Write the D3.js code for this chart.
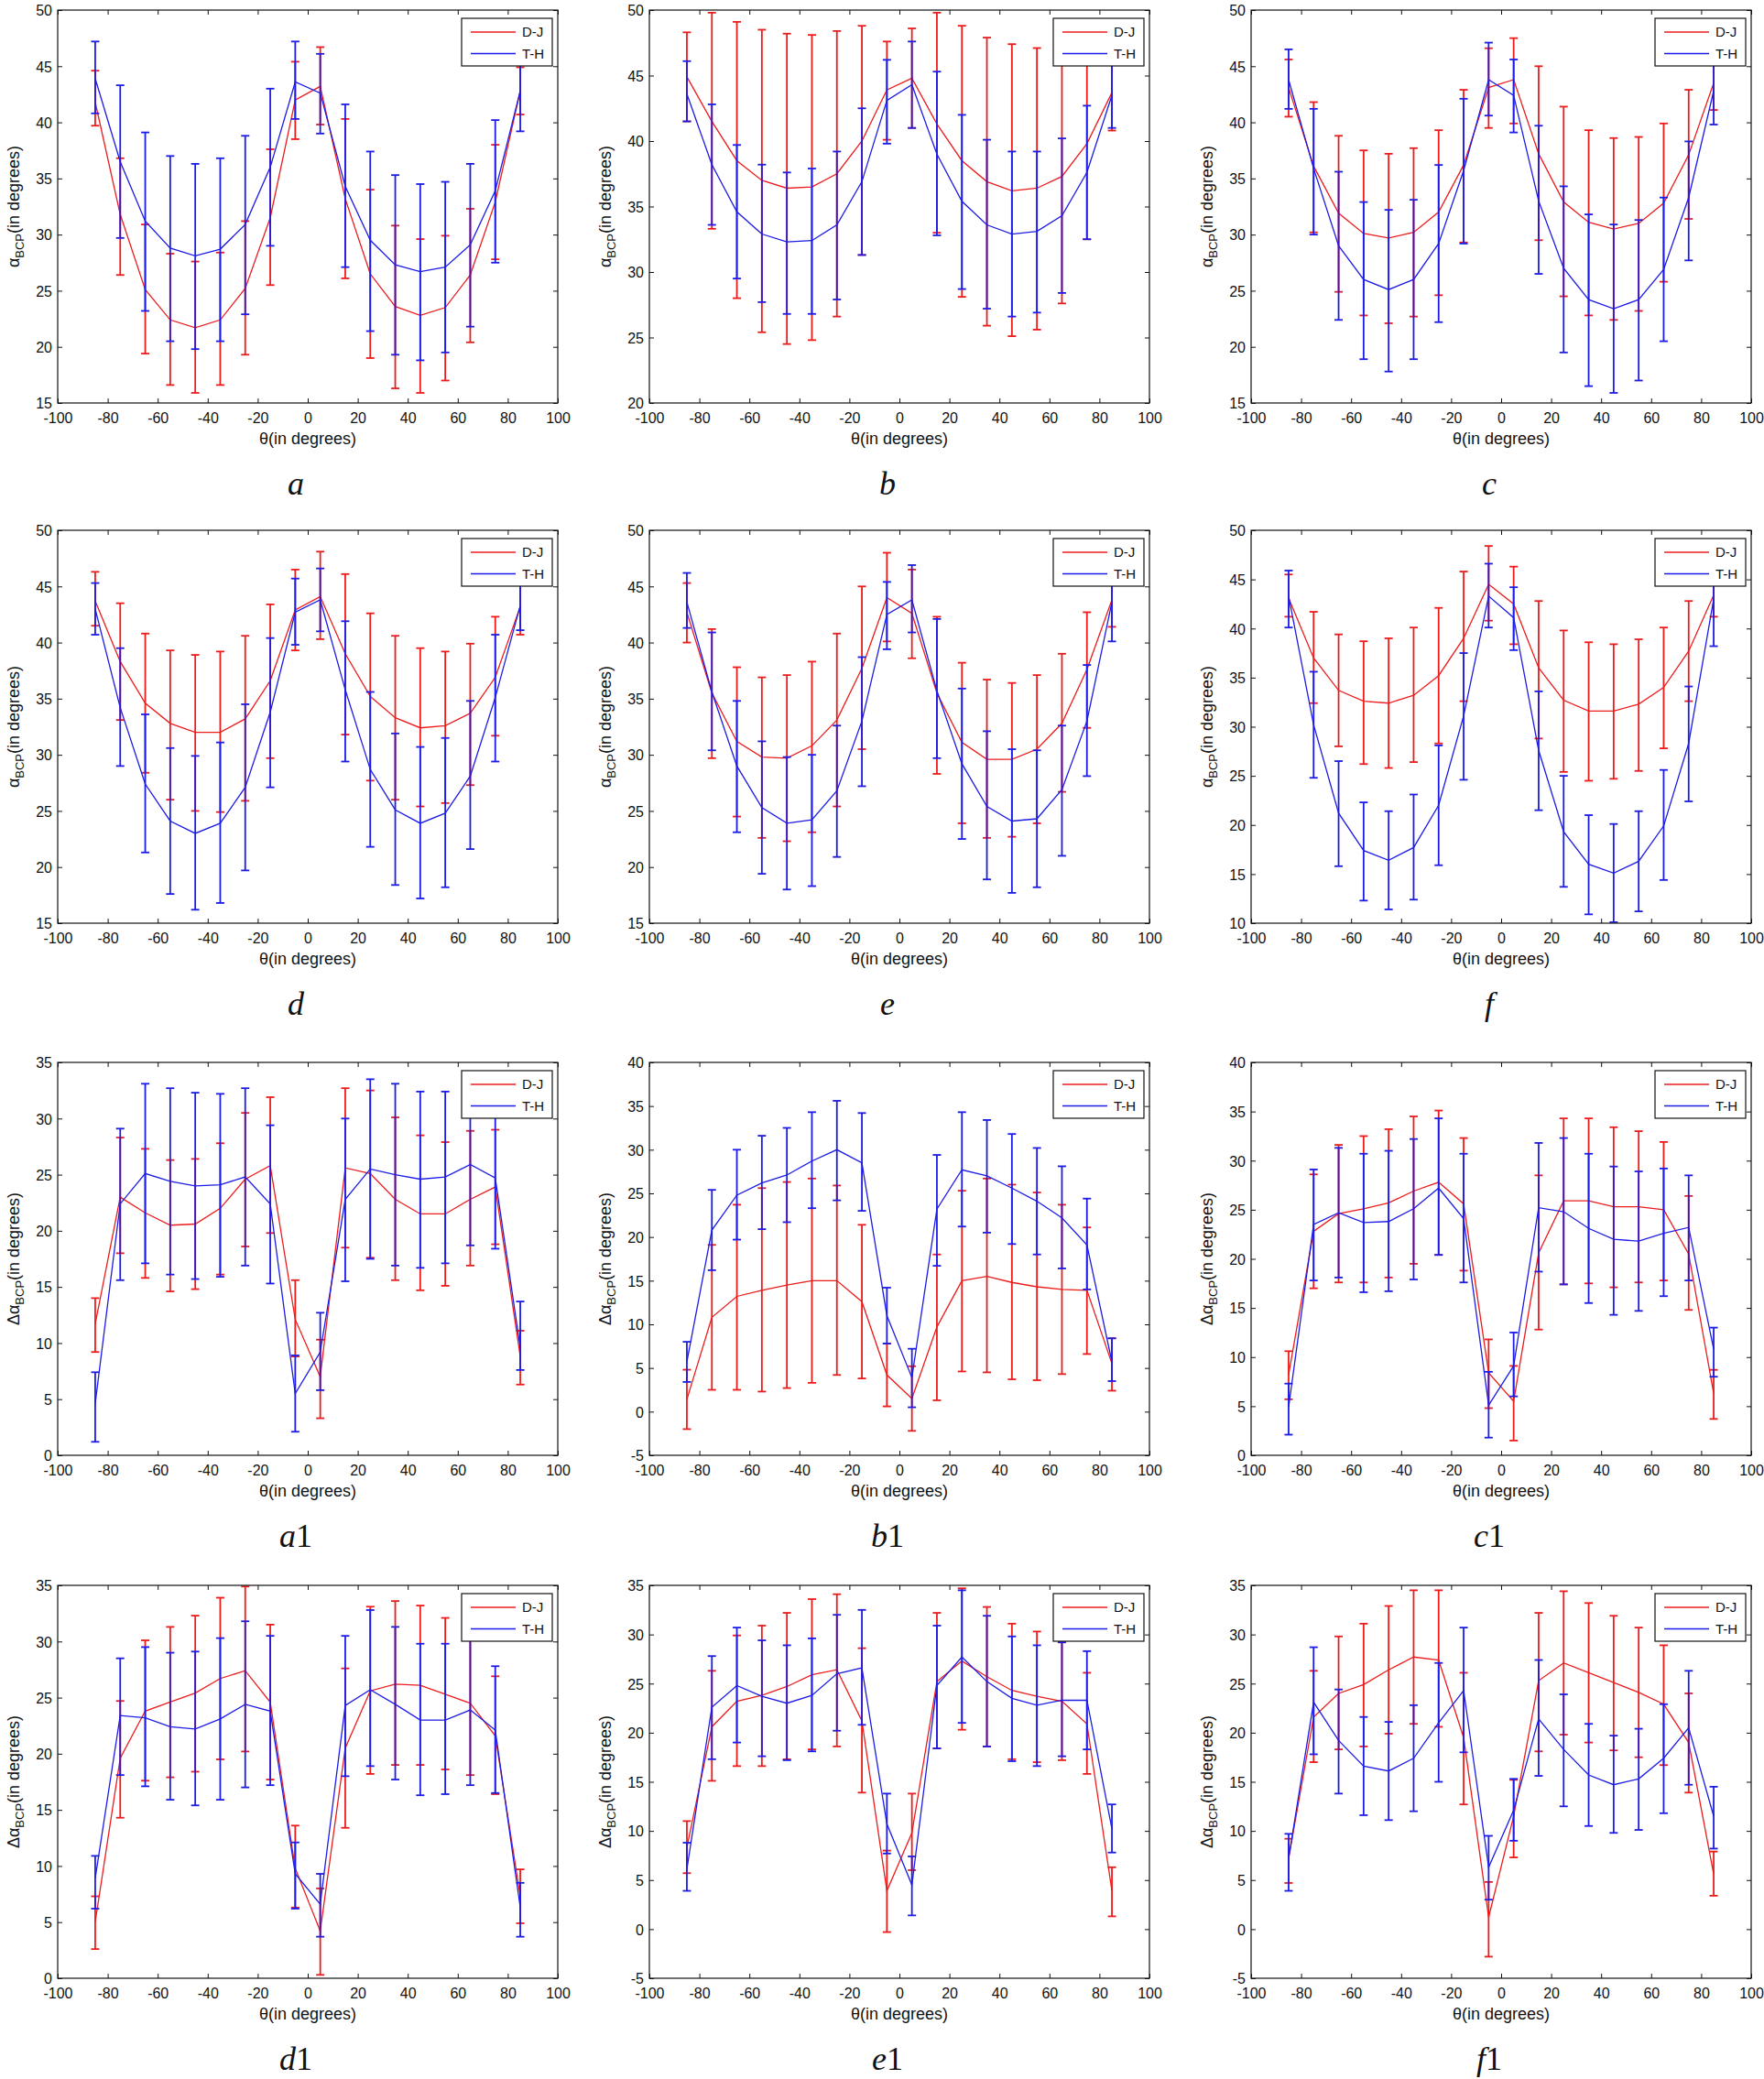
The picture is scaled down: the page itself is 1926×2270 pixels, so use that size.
<!DOCTYPE html>
<html>
<head>
<meta charset="utf-8">
<script src="https://cdn.jsdelivr.net/npm/d3@7"></script>
<style>
  body { margin: 0; background: #fff; }
  svg { display: block; }
  text { font-family: "Liberation Sans", Arial, sans-serif; fill: #111; }
</style>
</head>
<body>
<svg id="fig" width="1926" height="2270"></svg>
<script>
// angles where both estimators were evaluated
var theta = [-85, -75, -65, -55, -45, -35, -25, -15, -5, 5, 15, 25, 35, 45, 55, 65, 75, 85];
var xTicks = [-100, -80, -60, -40, -20, 0, 20, 40, 60, 80, 100];

var yTicks15 = [15, 20, 25, 30, 35, 40, 45, 50];
var yTicks20 = [20, 25, 30, 35, 40, 45, 50];
var yTicks10 = [10, 15, 20, 25, 30, 35, 40, 45, 50];
var yTicks0_35 = [0, 5, 10, 15, 20, 25, 30, 35];
var yTicks0_40 = [0, 5, 10, 15, 20, 25, 30, 35, 40];
var yTicksM5_40 = [-5, 0, 5, 10, 15, 20, 25, 30, 35, 40];
var yTicksM5_35 = [-5, 0, 5, 10, 15, 20, 25, 30, 35];

// panel a
var a_dj    = [41.8, 31.8, 25.1, 22.4, 21.7, 22.4, 25.2, 31.5, 42.0, 43.2, 33.2, 26.5, 23.6, 22.8, 23.5, 26.4, 32.9, 42.8];
var a_dj_up = [44.6, 36.8, 30.9, 28.3, 27.6, 28.4, 31.2, 37.6, 45.4, 46.7, 40.3, 34.0, 30.8, 29.6, 29.9, 32.3, 38.0, 44.9];
var a_dj_lo = [39.7, 26.4, 19.4, 16.6, 15.9, 16.6, 19.3, 25.5, 38.5, 39.8, 26.1, 19.0, 16.3, 15.9, 17.0, 20.4, 27.8, 40.7];
var a_th    = [43.9, 36.5, 31.2, 28.8, 28.1, 28.7, 30.9, 36.0, 43.6, 42.6, 34.3, 29.5, 27.3, 26.7, 27.1, 29.1, 33.9, 42.8];
var a_th_up = [47.2, 43.3, 39.1, 37.0, 36.3, 36.8, 38.8, 43.0, 47.2, 46.1, 41.6, 37.4, 35.3, 34.5, 34.7, 36.3, 40.2, 46.5];
var a_th_lo = [40.8, 29.7, 23.2, 20.5, 19.8, 20.5, 22.9, 29.0, 40.3, 39.0, 27.1, 21.4, 19.3, 18.8, 19.5, 21.8, 27.5, 39.2];

// panel b
var b_dj    = [44.9, 41.5, 38.5, 37.0, 36.4, 36.5, 37.5, 40.0, 43.9, 44.8, 41.3, 38.5, 36.9, 36.2, 36.4, 37.3, 39.8, 43.7];
var b_dj_up = [48.3, 49.8, 49.1, 48.5, 48.2, 48.1, 48.4, 48.8, 47.6, 48.6, 49.8, 48.8, 47.9, 47.4, 47.1, 46.9, 47.0, 46.6];
var b_dj_lo = [41.5, 33.3, 28.0, 25.4, 24.5, 24.8, 26.6, 31.3, 40.1, 41.0, 33.0, 28.1, 25.9, 25.1, 25.6, 27.6, 32.5, 40.8];
var b_th    = [43.6, 38.2, 34.6, 32.9, 32.3, 32.4, 33.6, 36.9, 43.1, 44.3, 39.0, 35.4, 33.6, 32.9, 33.1, 34.3, 37.6, 43.5];
var b_th_up = [46.1, 42.8, 39.7, 38.2, 37.6, 37.9, 39.2, 42.5, 46.2, 47.6, 45.3, 42.0, 40.1, 39.2, 39.2, 40.2, 42.7, 46.0];
var b_th_lo = [41.5, 33.6, 29.5, 27.7, 26.8, 26.8, 27.9, 31.3, 39.8, 41.0, 32.8, 28.7, 27.2, 26.6, 26.9, 28.4, 32.5, 41.0];

// panel c
var c_dj    = [43.1, 36.1, 31.9, 30.1, 29.7, 30.2, 32.0, 36.2, 43.1, 43.8, 37.2, 32.9, 31.1, 30.5, 31.0, 32.8, 37.1, 43.5];
var c_dj_up = [45.6, 41.8, 38.8, 37.5, 37.2, 37.7, 39.3, 42.9, 46.6, 47.5, 45.0, 41.4, 39.3, 38.6, 38.7, 39.9, 42.9, 45.9];
var c_dj_lo = [40.5, 30.2, 24.9, 22.8, 22.1, 22.7, 24.6, 29.3, 39.5, 39.9, 29.5, 24.5, 22.8, 22.4, 23.2, 25.8, 31.4, 41.1];
var c_th    = [43.8, 35.9, 29.0, 26.0, 25.1, 26.0, 29.2, 35.7, 43.8, 42.4, 33.0, 27.0, 24.2, 23.4, 24.2, 26.9, 33.3, 42.8];
var c_th_up = [46.5, 41.2, 35.6, 32.9, 32.2, 33.1, 36.2, 42.1, 47.1, 45.6, 39.7, 34.3, 31.8, 30.9, 31.3, 33.3, 38.3, 46.3];
var c_th_lo = [41.2, 30.0, 22.4, 18.9, 17.8, 18.9, 22.2, 29.2, 40.6, 39.1, 26.5, 19.5, 16.5, 15.9, 17.0, 20.5, 27.7, 39.8];

// panel d
var d_dj    = [43.7, 38.3, 34.6, 32.8, 32.0, 32.0, 33.2, 36.6, 42.9, 44.1, 39.0, 35.2, 33.3, 32.4, 32.6, 33.7, 36.9, 43.2];
var d_dj_up = [46.3, 43.5, 40.8, 39.3, 38.9, 39.2, 40.6, 43.4, 46.5, 48.1, 46.1, 42.6, 40.6, 39.5, 39.2, 39.9, 42.3, 45.3];
var d_dj_lo = [41.5, 33.1, 28.4, 26.0, 25.0, 24.9, 25.9, 29.7, 39.3, 40.3, 31.8, 27.7, 26.0, 25.4, 25.7, 27.3, 31.7, 40.7];
var d_th    = [43.0, 34.2, 27.4, 24.1, 23.0, 23.9, 27.1, 33.8, 42.7, 43.8, 35.8, 28.7, 25.1, 23.9, 24.8, 28.1, 35.1, 43.3];
var d_th_up = [45.3, 39.5, 33.6, 30.6, 29.9, 31.1, 34.5, 40.4, 45.7, 46.6, 41.9, 35.6, 31.9, 30.7, 31.5, 34.8, 40.7, 45.6];
var d_th_lo = [40.7, 29.0, 21.3, 17.6, 16.2, 16.8, 19.7, 27.1, 39.8, 41.0, 29.4, 21.8, 18.4, 17.2, 18.2, 21.6, 29.4, 41.1];

// panel e
var e_dj    = [42.7, 35.5, 31.2, 29.8, 29.7, 30.8, 33.1, 37.7, 44.0, 42.6, 35.5, 31.1, 29.6, 29.6, 30.5, 32.8, 37.6, 43.8];
var e_dj_up = [45.3, 41.2, 37.8, 36.9, 37.1, 38.3, 40.8, 45.0, 48.0, 46.5, 42.3, 38.2, 36.7, 36.4, 37.1, 39.0, 42.7, 46.2];
var e_dj_lo = [40.0, 29.7, 24.5, 22.6, 22.3, 23.1, 25.4, 30.5, 40.1, 38.6, 28.3, 23.9, 22.6, 22.7, 23.9, 26.7, 32.4, 41.4];
var e_th    = [43.6, 35.6, 29.0, 25.3, 23.9, 24.2, 26.8, 33.0, 42.5, 43.8, 35.7, 29.2, 25.4, 24.1, 24.3, 26.9, 33.0, 43.6];
var e_th_up = [46.2, 40.9, 34.8, 31.2, 29.8, 30.0, 32.6, 38.7, 45.4, 46.9, 42.1, 35.9, 32.1, 30.5, 30.4, 32.6, 38.0, 46.4];
var e_th_lo = [41.3, 30.4, 23.1, 19.4, 18.0, 18.3, 20.9, 27.2, 39.4, 40.9, 29.7, 22.5, 18.9, 17.7, 18.2, 21.0, 28.1, 40.1];

// panel f
var f_dj    = [43.1, 37.0, 33.7, 32.6, 32.4, 33.2, 35.2, 39.0, 44.5, 42.5, 36.0, 32.7, 31.6, 31.6, 32.3, 34.0, 37.7, 43.4];
var f_dj_up = [45.5, 41.7, 39.4, 38.7, 39.0, 40.1, 42.1, 45.8, 48.4, 46.3, 42.8, 39.8, 38.6, 38.4, 38.9, 40.1, 42.8, 45.6];
var f_dj_lo = [41.2, 32.4, 28.0, 26.2, 25.8, 26.4, 28.3, 32.6, 40.8, 38.4, 28.8, 25.4, 24.5, 24.7, 25.5, 27.8, 32.6, 41.2];
var f_th    = [43.3, 30.2, 21.2, 17.4, 16.4, 17.7, 22.0, 31.1, 43.3, 41.1, 27.6, 19.3, 16.0, 15.1, 16.3, 19.9, 28.3, 43.0];
var f_th_up = [45.9, 35.6, 26.5, 22.3, 21.4, 23.1, 28.1, 37.5, 46.6, 44.2, 33.6, 25.0, 21.0, 20.1, 21.4, 25.6, 34.1, 45.6];
var f_th_lo = [40.1, 24.8, 15.8, 12.3, 11.4, 12.4, 15.9, 24.6, 40.1, 37.8, 21.5, 13.7, 10.9, 10.1, 11.2, 14.4, 22.4, 38.2];

// panel a1
var a1_dj    = [11.7, 23.0, 21.6, 20.5, 20.6, 22.0, 24.6, 25.8, 12.1, 7.0, 25.6, 25.1, 22.8, 21.5, 21.5, 22.8, 23.9, 8.8];
var a1_dj_up = [14.0, 28.3, 27.3, 26.3, 26.4, 27.8, 30.5, 31.9, 15.6, 10.3, 32.7, 32.5, 30.1, 28.5, 27.9, 28.9, 29.0, 11.1];
var a1_dj_lo = [9.2, 18.0, 15.8, 14.6, 14.8, 16.1, 18.6, 19.8, 8.8, 3.3, 18.5, 17.6, 15.6, 14.7, 15.1, 16.9, 18.8, 6.3];
var a1_th    = [4.6, 22.4, 25.1, 24.4, 24.0, 24.1, 24.8, 22.4, 5.5, 9.2, 22.8, 25.5, 25.0, 24.6, 24.8, 25.9, 24.7, 9.6];
var a1_th_up = [7.4, 29.1, 33.1, 32.7, 32.3, 32.2, 32.7, 29.4, 8.9, 12.7, 30.0, 33.5, 33.1, 32.4, 32.4, 33.0, 31.0, 13.7];
var a1_th_lo = [1.2, 15.6, 17.1, 16.1, 15.7, 15.9, 16.9, 15.3, 2.1, 5.8, 15.5, 17.5, 16.9, 16.7, 17.1, 18.7, 18.4, 7.6];

// panel b1
var b1_dj    = [1.4, 10.8, 13.2, 13.9, 14.5, 15.0, 15.0, 12.6, 4.2, 1.5, 9.7, 15.0, 15.5, 14.8, 14.3, 14.0, 13.9, 5.5];
var b1_dj_up = [4.8, 19.1, 23.7, 25.6, 26.3, 26.7, 25.9, 21.4, 7.8, 5.2, 18.0, 25.3, 26.7, 26.0, 25.1, 23.7, 21.1, 8.4];
var b1_dj_lo = [-2.0, 2.5, 2.5, 2.3, 2.7, 3.3, 4.2, 3.8, 0.6, -2.2, 1.3, 4.6, 4.5, 3.7, 3.6, 4.3, 6.6, 2.4];
var b1_th    = [5.7, 20.8, 24.8, 26.2, 27.1, 28.7, 30.0, 28.5, 11.0, 3.9, 23.2, 27.7, 27.0, 25.6, 24.1, 22.2, 19.1, 5.7];
var b1_th_up = [8.0, 25.4, 30.0, 31.6, 32.5, 34.3, 35.6, 34.2, 14.2, 7.2, 29.4, 34.3, 33.4, 31.8, 30.2, 28.1, 24.4, 8.4];
var b1_th_lo = [3.4, 16.2, 19.7, 20.9, 21.7, 23.3, 24.2, 23.0, 7.8, 0.5, 16.7, 21.2, 20.5, 19.2, 18.0, 16.4, 14.0, 3.5];

// panel c1
var c1_dj    = [8.2, 22.8, 24.6, 25.1, 25.7, 26.9, 27.8, 25.6, 8.4, 5.5, 20.6, 25.9, 25.9, 25.3, 25.3, 25.0, 20.5, 6.3];
var c1_dj_up = [10.6, 28.6, 31.6, 32.5, 33.2, 34.5, 35.1, 32.3, 11.8, 9.1, 28.5, 34.3, 34.3, 33.4, 33.0, 31.9, 26.4, 8.7];
var c1_dj_lo = [5.7, 17.0, 17.6, 17.6, 18.1, 19.5, 20.4, 18.8, 4.8, 1.5, 12.8, 17.4, 17.5, 17.1, 17.6, 17.8, 14.8, 3.7];
var c1_th    = [4.9, 23.5, 24.7, 23.7, 23.8, 25.1, 27.2, 24.1, 5.1, 9.1, 25.2, 24.8, 23.1, 22.0, 21.8, 22.6, 23.2, 10.8];
var c1_th_up = [7.3, 29.1, 31.3, 30.7, 31.0, 32.2, 34.3, 30.7, 8.5, 12.5, 31.8, 32.3, 30.7, 29.4, 28.9, 29.2, 28.5, 13.0];
var c1_th_lo = [2.1, 17.8, 18.1, 16.6, 16.7, 17.9, 20.4, 17.6, 1.8, 6.0, 18.7, 17.4, 15.5, 14.3, 14.7, 16.2, 17.8, 8.0];

// panel d1
var d1_dj    = [5.0, 19.6, 23.8, 24.6, 25.4, 26.7, 27.4, 24.6, 9.8, 4.2, 20.5, 25.6, 26.2, 26.1, 25.3, 24.5, 21.6, 7.3];
var d1_dj_up = [7.3, 24.7, 30.1, 31.3, 32.3, 33.9, 34.9, 31.5, 13.6, 8.0, 27.6, 33.1, 33.6, 33.2, 32.1, 30.9, 26.9, 9.7];
var d1_dj_lo = [2.6, 14.3, 17.6, 17.9, 18.4, 19.5, 20.2, 17.7, 6.3, 0.3, 13.4, 18.2, 19.0, 19.0, 18.6, 18.1, 16.4, 4.9];
var d1_th    = [8.9, 23.4, 23.2, 22.4, 22.2, 23.1, 24.4, 23.8, 9.3, 6.6, 24.3, 25.7, 24.4, 23.0, 23.0, 23.9, 22.1, 6.3];
var d1_th_up = [10.9, 28.5, 29.5, 29.0, 29.1, 30.3, 31.8, 30.5, 12.1, 9.3, 30.5, 32.8, 31.3, 29.8, 29.8, 30.5, 27.8, 8.5];
var d1_th_lo = [6.2, 18.1, 17.1, 15.9, 15.4, 15.9, 17.0, 17.2, 6.2, 3.7, 18.0, 18.9, 17.7, 16.3, 16.4, 17.2, 16.5, 3.7];

// panel e1
var e1_dj    = [8.3, 20.6, 23.2, 23.8, 24.7, 25.9, 26.4, 21.2, 3.9, 9.8, 25.2, 27.3, 25.7, 24.3, 23.7, 23.2, 20.9, 3.9];
var e1_dj_up = [11.0, 26.3, 29.9, 30.9, 32.2, 33.6, 34.1, 28.6, 8.0, 13.8, 32.2, 34.7, 32.8, 31.1, 30.3, 29.2, 26.1, 6.3];
var e1_dj_lo = [5.7, 15.1, 16.6, 16.6, 17.3, 18.3, 18.6, 13.9, -0.3, 6.0, 18.4, 20.3, 18.6, 17.3, 17.0, 17.2, 15.8, 1.3];
var e1_th    = [6.1, 22.6, 24.8, 23.7, 23.0, 23.8, 26.0, 26.6, 10.7, 4.5, 24.8, 27.7, 25.2, 23.5, 22.8, 23.3, 23.3, 10.2];
var e1_th_up = [8.8, 27.8, 30.7, 29.4, 28.9, 29.6, 32.0, 32.5, 13.8, 7.4, 30.9, 34.5, 31.9, 29.8, 28.9, 29.2, 28.3, 12.7];
var e1_th_lo = [3.9, 17.3, 19.0, 17.6, 17.2, 18.1, 20.2, 20.8, 7.7, 1.4, 18.4, 21.0, 18.6, 17.1, 16.6, 17.6, 18.3, 7.8];

// panel f1
var f1_dj    = [7.2, 21.6, 24.0, 24.9, 26.4, 27.7, 27.4, 19.5, 1.2, 11.5, 25.3, 27.1, 26.1, 25.1, 24.1, 22.9, 19.0, 5.6];
var f1_dj_up = [9.2, 26.3, 29.8, 31.1, 32.9, 34.5, 34.5, 26.1, 4.8, 15.2, 32.2, 34.4, 33.2, 31.9, 30.7, 28.9, 24.0, 7.9];
var f1_dj_lo = [4.7, 17.0, 18.3, 18.6, 19.9, 20.9, 20.6, 12.7, -2.8, 7.3, 18.1, 19.8, 19.0, 18.2, 17.5, 16.7, 13.9, 3.4];
var f1_th    = [7.2, 23.1, 19.2, 16.6, 16.1, 17.4, 21.0, 24.3, 6.3, 12.1, 21.4, 18.3, 15.7, 14.7, 15.3, 17.4, 20.5, 11.5];
var f1_th_up = [9.7, 28.7, 24.4, 21.6, 21.1, 22.8, 27.1, 30.7, 9.5, 15.3, 27.4, 23.9, 20.9, 19.7, 20.4, 22.9, 26.3, 14.5];
var f1_th_lo = [3.9, 17.8, 13.8, 11.6, 11.1, 12.0, 15.0, 18.0, 3.0, 9.0, 15.6, 12.5, 10.5, 9.8, 10.1, 11.8, 14.7, 8.2];

var seriesNames = ['D-J', 'T-H'];
var seriesColors = ['#ec1c1c', '#1c1ce6'];

var panels = [
  { letter: 'a', num: '', delta: false, yDomain: [15, 50], yTicks: yTicks15, dj: [a_dj, a_dj_up, a_dj_lo], th: [a_th, a_th_up, a_th_lo] },
  { letter: 'b', num: '', delta: false, yDomain: [20, 50], yTicks: yTicks20, dj: [b_dj, b_dj_up, b_dj_lo], th: [b_th, b_th_up, b_th_lo] },
  { letter: 'c', num: '', delta: false, yDomain: [15, 50], yTicks: yTicks15, dj: [c_dj, c_dj_up, c_dj_lo], th: [c_th, c_th_up, c_th_lo] },
  { letter: 'd', num: '', delta: false, yDomain: [15, 50], yTicks: yTicks15, dj: [d_dj, d_dj_up, d_dj_lo], th: [d_th, d_th_up, d_th_lo] },
  { letter: 'e', num: '', delta: false, yDomain: [15, 50], yTicks: yTicks15, dj: [e_dj, e_dj_up, e_dj_lo], th: [e_th, e_th_up, e_th_lo] },
  { letter: 'f', num: '', delta: false, yDomain: [10, 50], yTicks: yTicks10, dj: [f_dj, f_dj_up, f_dj_lo], th: [f_th, f_th_up, f_th_lo] },
  { letter: 'a', num: '1', delta: true, yDomain: [0, 35], yTicks: yTicks0_35, dj: [a1_dj, a1_dj_up, a1_dj_lo], th: [a1_th, a1_th_up, a1_th_lo] },
  { letter: 'b', num: '1', delta: true, yDomain: [-5, 40], yTicks: yTicksM5_40, dj: [b1_dj, b1_dj_up, b1_dj_lo], th: [b1_th, b1_th_up, b1_th_lo] },
  { letter: 'c', num: '1', delta: true, yDomain: [0, 40], yTicks: yTicks0_40, dj: [c1_dj, c1_dj_up, c1_dj_lo], th: [c1_th, c1_th_up, c1_th_lo] },
  { letter: 'd', num: '1', delta: true, yDomain: [0, 35], yTicks: yTicks0_35, dj: [d1_dj, d1_dj_up, d1_dj_lo], th: [d1_th, d1_th_up, d1_th_lo] },
  { letter: 'e', num: '1', delta: true, yDomain: [-5, 35], yTicks: yTicksM5_35, dj: [e1_dj, e1_dj_up, e1_dj_lo], th: [e1_th, e1_th_up, e1_th_lo] },
  { letter: 'f', num: '1', delta: true, yDomain: [-5, 35], yTicks: yTicksM5_35, dj: [f1_dj, f1_dj_up, f1_dj_lo], th: [f1_th, f1_th_up, f1_th_lo] }
];

// layout of the 3 x 4 grid
var colLeft = [63, 709, 1366];
var rowTop = [11, 579, 1160, 1731];
var plotW = 546, plotH = 429;
var capHalf = 4.5;

var svg = d3.select('#fig');
var fmt = function (d) { return String(d); };

function drawPanel(p, i) {
  var left = colLeft[i % 3], top = rowTop[Math.floor(i / 3)];
  var g = svg.append('g').attr('transform', 'translate(' + left + ',' + top + ')');

  var x = d3.scaleLinear().domain([-100, 100]).range([0, plotW]);
  var y = d3.scaleLinear().domain(p.yDomain).range([plotH, 0]);

  var clipId = 'clip' + i;
  g.append('clipPath').attr('id', clipId)
    .append('rect').attr('width', plotW).attr('height', plotH);

  // axes, ticks pointing inwards on all four sides like MATLAB
  var bottom = g.append('g').attr('transform', 'translate(0,' + plotH + ')')
    .call(d3.axisBottom(x).tickValues(xTicks).tickSize(-5).tickFormat(fmt));
  bottom.selectAll('text').attr('y', 22).attr('dy', null);
  g.append('g')
    .call(d3.axisTop(x).tickValues(xTicks).tickSize(-5).tickFormat(''));
  var leftAx = g.append('g')
    .call(d3.axisLeft(y).tickValues(p.yTicks).tickSize(-5).tickPadding(6).tickFormat(fmt));
  leftAx.selectAll('text').attr('dy', '0.36em');
  g.append('g').attr('transform', 'translate(' + plotW + ',0)')
    .call(d3.axisRight(y).tickValues(p.yTicks).tickSize(-5).tickFormat(''));
  g.selectAll('.domain').remove();
  g.selectAll('.tick line').attr('stroke', '#111').attr('stroke-width', 1);
  g.selectAll('.tick text').style('font-size', '16px').style('font-family', '"Liberation Sans", Arial, sans-serif').attr('fill', '#111');

  var data = g.append('g').attr('clip-path', 'url(#' + clipId + ')');
  [p.dj, p.th].forEach(function (s, k) {
    var col = seriesColors[k];
    var pts = theta.map(function (t, j) { return { t: t, m: s[0][j], hi: s[1][j], lo: s[2][j] }; });
    var sg = data.append('g');
    sg.append('path')
      .attr('d', d3.line().x(function (d) { return x(d.t); }).y(function (d) { return y(d.m); })(pts))
      .attr('fill', 'none').attr('stroke', col).attr('stroke-width', 1.3);
    var bars = sg.selectAll('g.bar').data(pts).enter().append('g').attr('class', 'bar')
      .attr('stroke', col).attr('stroke-width', 1.8);
    bars.append('line')
      .attr('x1', function (d) { return x(d.t); }).attr('x2', function (d) { return x(d.t); })
      .attr('y1', function (d) { return y(d.hi); }).attr('y2', function (d) { return y(d.lo); });
    bars.append('line')
      .attr('x1', function (d) { return x(d.t) - capHalf; }).attr('x2', function (d) { return x(d.t) + capHalf; })
      .attr('y1', function (d) { return y(d.hi); }).attr('y2', function (d) { return y(d.hi); });
    bars.append('line')
      .attr('x1', function (d) { return x(d.t) - capHalf; }).attr('x2', function (d) { return x(d.t) + capHalf; })
      .attr('y1', function (d) { return y(d.lo); }).attr('y2', function (d) { return y(d.lo); });
  });

  // frame
  g.append('rect').attr('width', plotW).attr('height', plotH)
    .attr('fill', 'none').attr('stroke', '#111').attr('stroke-width', 1.2);

  // legend (opaque, drawn over data)
  var lg = g.append('g').attr('transform', 'translate(' + (plotW - 105) + ',9)');
  lg.append('rect').attr('width', 99).attr('height', 52)
    .attr('fill', '#fff').attr('stroke', '#111').attr('stroke-width', 1.2);
  seriesNames.forEach(function (name, k) {
    var ly = 15 + k * 23.5;
    lg.append('line').attr('x1', 10).attr('x2', 59).attr('y1', ly).attr('y2', ly)
      .attr('stroke', seriesColors[k]).attr('stroke-width', 1.5);
    lg.append('text').attr('x', 66).attr('y', ly).attr('dy', '0.36em')
      .style('font-size', '15px').text(name);
  });

  // axis titles
  g.append('text').attr('x', plotW / 2).attr('y', plotH + 45)
    .attr('text-anchor', 'middle').style('font-size', '18px').text('θ(in degrees)');

  var yl = g.append('text')
    .attr('transform', 'translate(-42,' + (plotH / 2) + ') rotate(-90)')
    .attr('text-anchor', 'middle').style('font-size', '18px');
  yl.append('tspan').text((p.delta ? 'Δ' : '') + 'α');
  yl.append('tspan').attr('dy', 5).style('font-size', '13px').text('BCP');
  yl.append('tspan').attr('dy', -5).text('(in degrees)');

  // panel letter
  var pl = g.append('text').attr('x', 260).attr('y', plotH + 100)
    .attr('text-anchor', 'middle')
    .style('font-family', '"Liberation Serif", "Times New Roman", serif').style('font-size', '36px');
  pl.append('tspan').style('font-style', 'italic').text(p.letter);
  if (p.num) pl.append('tspan').text(p.num);
}

panels.forEach(drawPanel);
</script>
</body>
</html>
